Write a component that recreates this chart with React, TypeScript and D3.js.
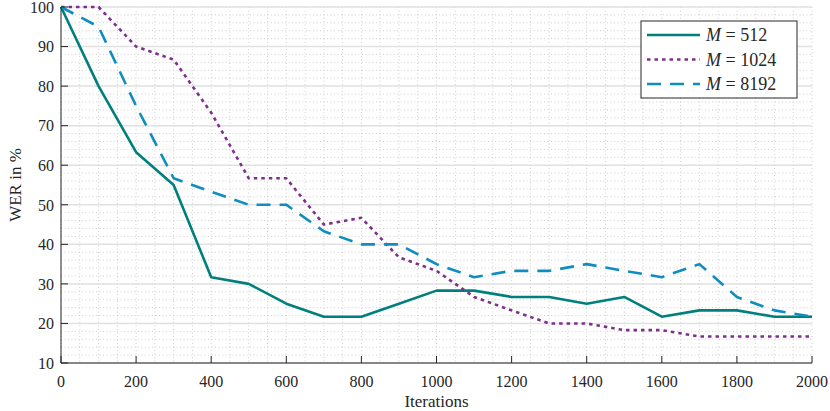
import * as d3 from 'd3';

const iterations = [0, 100, 200, 300, 400, 500, 600, 700, 800, 900, 1000, 1100, 1200, 1300, 1400, 1500, 1600, 1700, 1800, 1900, 2000];
const wer512 = [100, 80, 63.3, 55, 31.7, 30, 25, 21.7, 21.7, 25, 28.3, 28.3, 26.7, 26.7, 25, 26.7, 21.7, 23.3, 23.3, 21.7, 21.7];
const wer1024 = [100, 100, 90, 86.7, 73.3, 56.7, 56.7, 45, 46.7, 36.7, 33.3, 26.7, 23.3, 20, 20, 18.3, 18.3, 16.7, 16.7, 16.7, 16.7];
const wer8192 = [100, 95, 75, 56.7, 53.3, 50, 50, 43.3, 40, 40, 35, 31.7, 33.3, 33.3, 35, 33.3, 31.7, 35, 26.7, 23.3, 21.7];
const xTicks = [0, 200, 400, 600, 800, 1000, 1200, 1400, 1600, 1800, 2000];
const yTicks = [10, 20, 30, 40, 50, 60, 70, 80, 90, 100];
const seriesLabels = ['512', '1024', '8192'];

export default function App() {
  const width = 830;
  const height = 411;
  const left = 61;
  const right = 812;
  const top = 7;
  const bottom = 363;
  const font = "'Liberation Serif', 'DejaVu Serif', serif";

  const x = d3.scaleLinear().domain([0, 2000]).range([left, right]);
  const y = d3.scaleLinear().domain([10, 100]).range([bottom, top]);

  const line = d3.line<number>()
    .x((_, i) => x(iterations[i]))
    .y(d => y(d));

  const series = [
    { values: wer512, color: '#00807C', dash: undefined },
    { values: wer1024, color: '#7E2F8E', dash: '3.5 4' },
    { values: wer8192, color: '#0E8DC0', dash: '14 9' },
  ];

  const minorX = d3.range(0, 2001, 50);
  const minorY = d3.range(10, 100.1, 2);

  return (
    <svg width={width} height={height} style={{ position: 'absolute', left: 0, top: 0, fontFamily: font }}>
      <rect width={width} height={height} fill="#fff" />
      {/* minor grid */}
      {minorX.map(v => (
        <line key={'mx' + v} x1={x(v)} x2={x(v)} y1={top} y2={bottom} stroke="#c4c4c4" strokeWidth={0.8} strokeDasharray="1 2.5" />
      ))}
      {minorY.map(v => (
        <line key={'my' + v} x1={left} x2={right} y1={y(v)} y2={y(v)} stroke="#c4c4c4" strokeWidth={0.8} strokeDasharray="1 2.5" />
      ))}
      {/* major grid */}
      {yTicks.map(v => (
        <line key={'gy' + v} x1={left} x2={right} y1={y(v)} y2={y(v)} stroke="#e2e2e2" strokeWidth={1.5} />
      ))}

      {/* lines */}
      {series.map((s, i) => (
        <path key={i} d={line(s.values) || ''} fill="none" stroke={s.color} strokeWidth={2.6}
          strokeDasharray={s.dash} strokeLinejoin="round" />
      ))}

      {/* axes */}
      <line x1={left} x2={right} y1={bottom} y2={bottom} stroke="#262626" strokeWidth={1} />
      <line x1={left} x2={left} y1={top} y2={bottom} stroke="#262626" strokeWidth={1} />
      {xTicks.map(v => (
        <g key={'xt' + v}>
          <line x1={x(v)} x2={x(v)} y1={bottom} y2={bottom - 7} stroke="#262626" />
          <text x={x(v)} y={387} textAnchor="middle" fontSize={16} fill="#262626">{v}</text>
        </g>
      ))}
      {yTicks.map(v => (
        <g key={'yt' + v}>
          <line x1={left} x2={left + 7} y1={y(v)} y2={y(v)} stroke="#262626" />
          <text x={54} y={y(v)} dy="0.36em" textAnchor="end" fontSize={16} fill="#262626">{v}</text>
        </g>
      ))}

      <text x={(left + right) / 2} y={407} textAnchor="middle" fontSize={17} fill="#262626">Iterations</text>
      <text transform={`translate(15,${(top + bottom) / 2}) rotate(-90)`} dy="0.35em" textAnchor="middle" fontSize={17} fill="#262626">WER in %</text>

      {/* legend */}
      <rect x={641} y={21} width={156} height={77} fill="#fff" stroke="#262626" strokeWidth={1} />
      {series.map((s, i) => {
        const ly = 35 + i * 24.5;
        return (
          <g key={'lg' + i}>
            <line x1={647} x2={700} y1={ly} y2={ly} stroke={s.color} strokeWidth={2.6} strokeDasharray={s.dash} />
            <text x={706} y={ly} dy="0.35em" fontSize={18} fill="#262626">
              <tspan fontStyle="italic">M</tspan> = {seriesLabels[i]}
            </text>
          </g>
        );
      })}
    </svg>
  );
}
